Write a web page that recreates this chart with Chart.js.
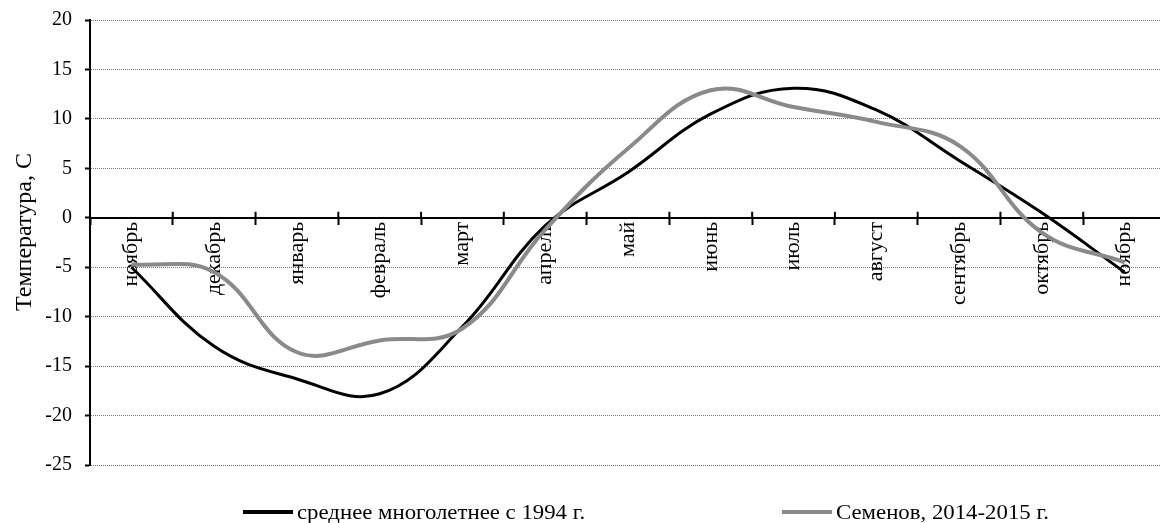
<!DOCTYPE html>
<html lang="ru">
<head>
  <meta charset="UTF-8" />
  <title>Температура</title>
  <script src="https://cdn.jsdelivr.net/npm/chart.js"></script>
  <style>
    html, body {
      margin: 0;
      padding: 0;
      width: 1160px;
      height: 523px;
      overflow: hidden;
      background: #fff;
    }
    .wrap {
      position: relative;
      width: 1160px;
      height: 523px;
      overflow: hidden;
    }
    #tempChart {
      position: absolute;
      left: 0;
      top: 0;
    }
    .y-title {
      position: absolute;
      left: 23px;
      top: 232px;
      transform: translate(-50%, -50%) rotate(-90deg);
      font-family: 'Liberation Serif', 'Times New Roman', serif;
      font-size: 24px;
      line-height: 28px;
      color: #000;
      white-space: nowrap;
    }
    .legend-item {
      position: absolute;
      top: 500px;
      font-family: 'Liberation Serif', 'Times New Roman', serif;
      font-size: 20px;
      line-height: 24px;
      color: #000;
      white-space: nowrap;
      display: flex;
      align-items: center;
    }
    .legend-item i {
      display: inline-block;
      width: 50px;
      height: 4px;
      margin-right: 4px;
    }
    .legend-item span {
      display: inline-block;
      transform: scaleX(1.14);
      transform-origin: left center;
    }
  </style>
</head>
<body>
  <div class="wrap">
    <canvas id="tempChart" width="1168" height="523"></canvas>
    <div class="y-title" id="yTitle"></div>
    <div id="legend"></div>
  </div>
  <script>
    const months = ['ноябрь', 'декабрь', 'январь', 'февраль', 'март', 'апрель', 'май',
                    'июнь', 'июль', 'август', 'сентябрь', 'октябрь', 'ноябрь'];
    const longTerm = [-5, -13, -16.3, -17.8, -11, -0.8, 4.6, 10.5, 13.1, 10.9, 5.8, 0.5, -5.5];
    const semenov = [-4.7, -5.5, -13.6, -12.4, -11.2, -1.2, 7.0, 12.9, 11.2, 9.7, 7.3, -1.5, -4.5];
    const seriesNames = ['среднее многолетнее с 1994 г.', 'Семенов, 2014-2015 г.'];
    const seriesColors = ['#000000', '#8a8a8a'];
    const yTitle = 'Температура, С';

    const serif = "'Liberation Serif', 'Times New Roman', serif";

    // cross-shaped tick marks on the x axis: draw the upper halves
    const crossTicks = {
      id: 'crossTicks',
      afterDraw(chart) {
        const x = chart.scales.x, y = chart.scales.y;
        const ctx = chart.ctx;
        const y0 = y.getPixelForValue(0);
        const step = x.width / months.length;
        ctx.save();
        ctx.strokeStyle = '#000';
        ctx.lineWidth = 2;
        ctx.beginPath();
        for (let i = 1; i < months.length; i++) {
          const px = x.left + step * i;
          ctx.moveTo(px, y0 - 6);
          ctx.lineTo(px, y0);
        }
        ctx.stroke();
        ctx.restore();
      }
    };

    const ctx = document.getElementById('tempChart').getContext('2d');
    const chart = new Chart(ctx, {
      type: 'line',
      data: {
        labels: months,
        datasets: [
          {
            label: seriesNames[0],
            data: longTerm,
            borderColor: seriesColors[0],
            backgroundColor: seriesColors[0],
            borderWidth: 3,
            pointRadius: 0,
            tension: 0.4,
            order: 2
          },
          {
            label: seriesNames[1],
            data: semenov,
            borderColor: seriesColors[1],
            backgroundColor: seriesColors[1],
            borderWidth: 4,
            pointRadius: 0,
            tension: 0.4,
            order: 1
          }
        ]
      },
      options: {
        responsive: false,
        animation: false,
        layout: { padding: { left: 0, top: 20, right: 2, bottom: 58 } },
        plugins: {
          legend: { display: false },
          tooltip: { enabled: false }
        },
        scales: {
          x: {
            position: { y: 0 },
            offset: true,
            afterFit(scale) { scale.paddingTop = 0; scale.paddingBottom = 0; },
            grid: {
              offset: true,
              drawOnChartArea: false,
              drawTicks: true,
              tickLength: 6,
              tickColor: '#000',
              tickWidth: 2
            },
            border: { display: true, color: '#000', width: 2 },
            ticks: {
              autoSkip: false,
              minRotation: 90,
              maxRotation: 90,
              padding: -2,
              color: '#000',
              font: { family: serif, size: 22 }
            }
          },
          y: {
            min: -25,
            max: 20,
            afterFit(scale) {
              scale.width = 90;
              scale.paddingTop = 0;
              scale.paddingBottom = 0;
            },
            ticks: {
              stepSize: 5,
              padding: 13,
              color: '#000',
              font: { family: serif, size: 20 }
            },
            grid: {
              color: (c) => c.tick && c.tick.value === 0 ? 'rgba(0,0,0,0)' : '#777',
              lineWidth: 1,
              tickLength: 5,
              tickColor: '#000',
              tickWidth: 2,
              tickBorderDash: []
            },
            border: { display: true, color: '#000', width: 2, dash: [1, 1] }
          }
        }
      },
      plugins: [crossTicks]
    });

    document.getElementById('yTitle').textContent = yTitle;

    // legend as html
    const legendLeft = [243, 782];
    const legend = document.getElementById('legend');
    chart.data.datasets.forEach((ds, i) => {
      const item = document.createElement('div');
      item.className = 'legend-item';
      item.style.left = legendLeft[i] + 'px';
      const line = document.createElement('i');
      line.style.background = ds.borderColor;
      const text = document.createElement('span');
      text.textContent = ds.label;
      item.appendChild(line);
      item.appendChild(text);
      legend.appendChild(item);
    });
  </script>
</body>
</html>
